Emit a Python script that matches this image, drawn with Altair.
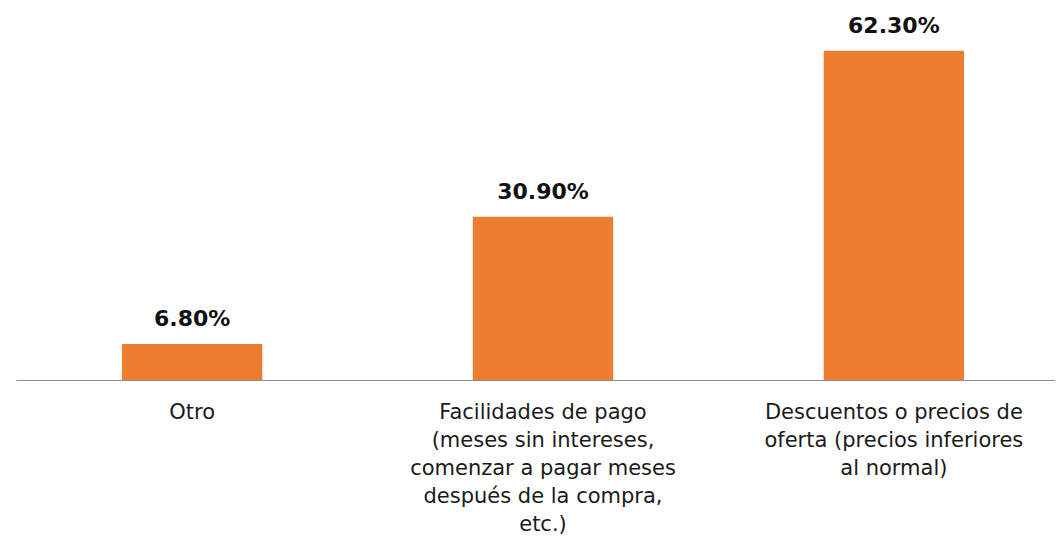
import altair as alt
import pandas as pd

categories = [
    "Otro",
    "Facilidades de pago\n(meses sin intereses,\ncomenzar a pagar meses\ndespués de la compra,\netc.)",
    "Descuentos o precios de\noferta (precios inferiores\nal normal)",
]
values = [6.8, 30.9, 62.3]
value_labels = ["6.80%", "30.90%", "62.30%"]

df = pd.DataFrame({"cat": categories, "val": values, "lab": value_labels})

FONT = "DejaVu Sans"

x = alt.X(
    "cat:N",
    sort=categories,
    scale=alt.Scale(paddingInner=0.6, paddingOuter=0.302, range=[0, 1054]),
    axis=alt.Axis(
        title=None,
        labelAngle=0,
        ticks=False,
        domainColor="#8c8c8c",
        domainWidth=1,
        labelExpr="split(datum.label, '\\n')",
        labelFont=FONT,
        labelFontSize=21,
        labelColor="#1a1a1a",
        labelLineHeight=28,
        labelPadding=21,
        labelBaseline="top",
        labelLimit=400,
    ),
)
y = alt.Y("val:Q", scale=alt.Scale(domain=[0, 70]), axis=None)

bars = alt.Chart(df).mark_bar(color="#ED7D31").encode(x=x, y=y)
text = alt.Chart(df).mark_text(
    baseline="bottom", dy=-13, font=FONT, fontSize=22, fontWeight="bold", color="#111111"
).encode(x=x, y=y, text="lab:N")

chart = (
    (bars + text)
    .properties(
        width=1039,
        height=370,
        background="white",
        autosize=alt.AutoSizeParams(type="none"),
        padding={"left": 8, "top": 2, "right": 0, "bottom": 170},
    )
    .configure_view(stroke=None, strokeWidth=0)
)

chart.save("out.html", embed_options={"renderer": "svg", "actions": False})
